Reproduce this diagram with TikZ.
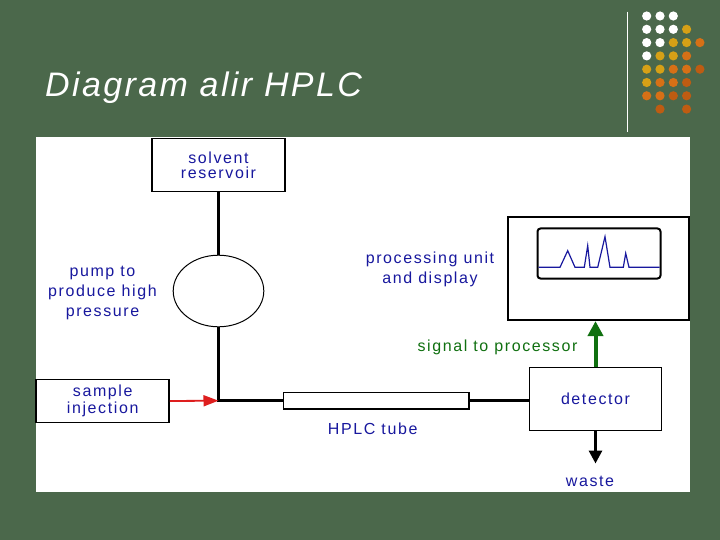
\documentclass[tikz,border=0pt]{standalone}
\usepackage{fontspec}
\usepackage{tikz}
\usetikzlibrary{arrows.meta}
\usetikzlibrary{shapes}
\setmainfont{Liberation Sans}
\newfontfamily\labelfont[LetterSpace=10]{Liberation Sans}
\newfontfamily\titlefont[LetterSpace=7]{Liberation Sans}
\definecolor{bg}{RGB}{75,104,75}
\definecolor{dblue}{RGB}{24,24,158}
\definecolor{sgreen}{RGB}{16,112,16}
\definecolor{sred}{RGB}{222,30,30}
\definecolor{dotw}{RGB}{255,255,255}
\definecolor{doty}{RGB}{214,160,22}
\definecolor{doto}{RGB}{214,112,22}
\definecolor{dotd}{RGB}{190,92,18}
\tikzstyle{box} = [rectangle, draw, line width=1.5pt, fill=white, inner sep=0pt]
\tikzstyle{lab} = [text=dblue, font=\labelfont\fontsize{16}{20}\selectfont, align=center, inner sep=0pt]
\tikzstyle{pipe} = [line width=3pt]

\begin{document}
\begin{tikzpicture}
    [x=1pt, y=-1pt]
    \fill[bg] (0,0) rectangle (720,540);
    \useasboundingbox (0,0) rectangle (720,540);
    % title and corner dots
    \node[anchor=base west, inner sep=0pt, text=white, font=\titlefont\itshape\fontsize{34}{40}\selectfont] (title) at (45,96.7) {Diagram alir HPLC};
    \draw[white, line width=1.5pt] (627.3,11.7) -- (627.3,131.7);
    \foreach \c/\r/\col in {0/0/dotw,1/0/dotw,2/0/dotw,
        0/1/dotw,1/1/dotw,2/1/dotw,3/1/doty,
        0/2/dotw,1/2/dotw,2/2/doty,3/2/doty,4/2/doto,
        0/3/dotw,1/3/doty,2/3/doty,3/3/doto,
        0/4/doty,1/4/doty,2/4/doto,3/4/doto,4/4/dotd,
        0/5/doty,1/5/doto,2/5/doto,3/5/dotd,
        0/6/doto,1/6/doto,2/6/dotd,3/6/dotd,
        1/7/dotd,3/7/dotd}
      \fill[\col] (646.7+13.3*\c, 16+13.3*\r) circle [radius=4.6];
    % white panel
    \fill[white] (36,137.5) rectangle (690,492);
    \node[box, lab, font=\labelfont\fontsize{16}{15}\selectfont, minimum width=133pt, minimum height=53pt] (res) at (218.5,165) {solvent\\reservoir};
    \node[draw, ellipse, line width=1pt, minimum width=90.6pt, minimum height=71.6pt, inner sep=0pt] (pump) at (218.5,291) {};
    \node[lab] (pumplab) at (102.5,293) {pump to\\produce high\\pressure};
    \coordinate (j) at (218.5,400.7);
    \node[box, lab, font=\labelfont\fontsize{16}{16.5}\selectfont, minimum width=133pt, minimum height=43.4pt] (inj) at (102.7,401) {sample\\injection};
    \node[box, line width=1.2pt, minimum width=185.7pt, minimum height=16.7pt] (tube) at (376.2,400.7) {};
    \node[lab, anchor=base] (tubelab) at (372.7,434) {HPLC tube};
    \node[box, lab, minimum width=132.4pt, minimum height=63.4pt] (det) at (595.5,399) {detector};
    \node[box, line width=2pt, minimum width=181pt, minimum height=102.7pt] (proc) at (598.8,268.7) {};
    \node[draw, rounded corners=3pt, line width=2pt, minimum width=123pt, minimum height=50pt, inner sep=0pt] (scr) at (599,253.5) {};
    \node[lab] (proclab) at (430,268.9) {processing unit\\and display};
    \node[lab, anchor=base, text=sgreen] (siglab) at (497.5,351) {signal to processor};
    \coordinate (w) at (595.5,463.5);
    \node[lab, anchor=base] (waste) at (590,486.7) {waste};
    % peaks on the screen
    \draw[dblue, line width=1.2pt] (538.5,267.3) -- (560,267.3) -- (567.7,250.7) -- (575,267.3) -- (584.3,267.3) -- (587.7,245.7) -- (590,267.3) -- (597.7,267.3) -- (605,236.7) -- (610,267.3) -- (623.3,267.3) -- (625.7,253.3) -- (629,267.3) -- (659.5,267.3);
    % flow lines
    \draw[pipe] (res.south) -- (pump.north);
    \draw[pipe] (pump.south) -- (j) -- (tube.west);
    \draw[pipe] (tube.east) -- (tube.east -| det.west);
    \draw[pipe, -{Triangle[length=13pt,width=13pt]}] (det.south) -- (w);
    \draw[sred, line width=1.8pt, -{Triangle[length=15pt,width=11pt]}] (inj.east) -- (j);
    \draw[sgreen, line width=4pt, -{Triangle[length=15pt,width=15pt]}] (det.north) -- (det.north |- proc.south);
\end{tikzpicture}
\end{document}
